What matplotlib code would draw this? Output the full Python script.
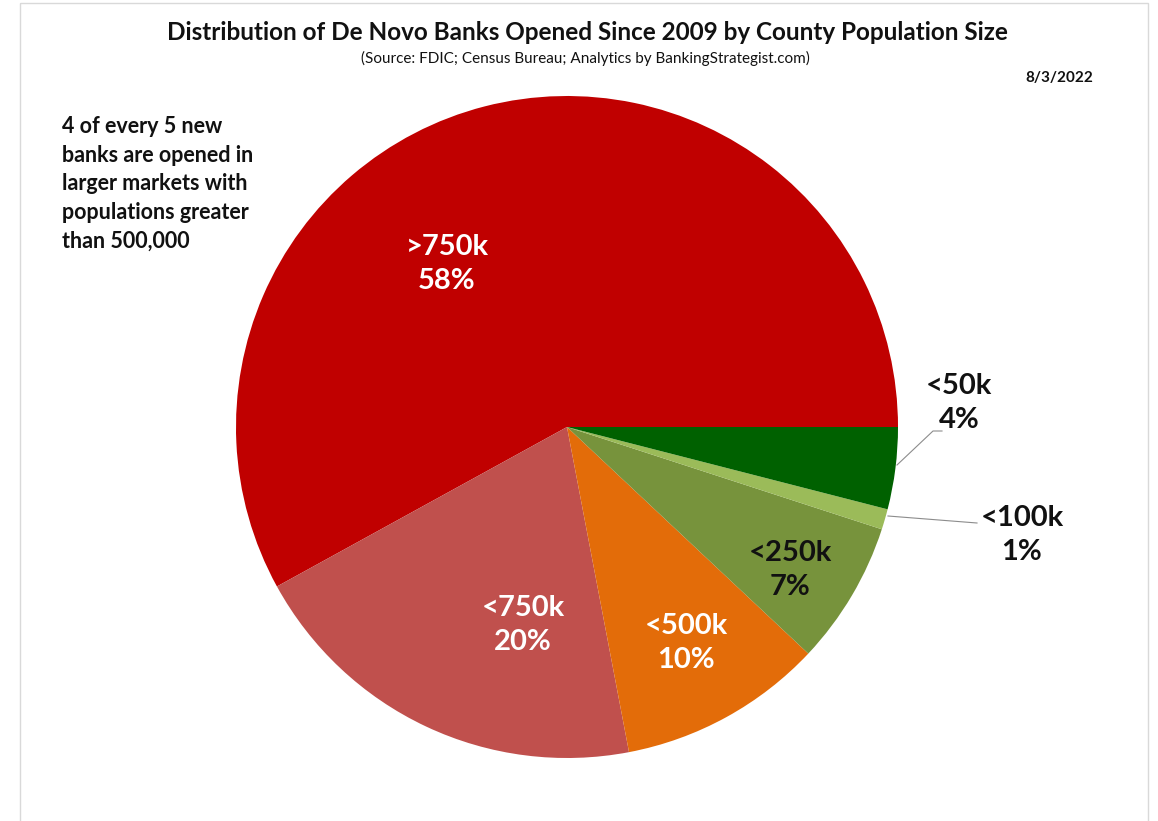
import matplotlib.pyplot as plt
from matplotlib.patches import Rectangle

# ── Dados ─────────────────────────────────────────────────────────────────────
categories = [">750k", "<750k", "<500k", "<250k", "<100k", "<50k"]
shares = [58, 20, 10, 7, 1, 4]
colors = ["#C00000", "#C0504D", "#E36C09", "#77933C", "#9BBB59", "#006100"]

TITLE = "Distribution of De Novo Banks Opened Since 2009 by County Population Size"
SUBTITLE = "(Source: FDIC; Census Bureau; Analytics by BankingStrategist.com)"
DATE = "8/3/2022"
NOTE = ("4 of every 5 new\nbanks are opened in\nlarger markets with\n"
        "populations greater\nthan 500,000")

W, H = 1158, 821
FONT = ["Lato", "DejaVu Sans"]

fig = plt.figure(figsize=(W / 100, H / 100), dpi=100)
ax = fig.add_axes([0, 0, 1, 1])

# moldura cinza clara
ax.add_patch(Rectangle((20, 3), 1128, 830, fill=False, edgecolor="#D9D9D9", linewidth=1))

cx, cy, r = 567, 427, 331
ax.pie(shares, colors=colors, startangle=0, counterclock=False,
       center=(cx, cy), radius=r, frame=True,
       wedgeprops=dict(linewidth=0))
ax.set_xlim(0, W)
ax.set_ylim(H, 0)
ax.set_aspect("equal")
ax.axis("off")

# rótulos (posição, cor)
label_pos = {
    ">750k": ((447, 264), "white"),
    "<750k": ((523, 625), "white"),
    "<500k": ((686, 643), "white"),
    "<250k": ((790, 570), "#111111"),
    "<100k": ((1022, 535), "#111111"),
    "<50k": ((959, 403), "#111111"),
}
for cat, val in zip(categories, shares):
    (x, y), c = label_pos[cat]
    ax.text(x, y, f"{cat}\n{val}%", ha="center", va="center", color=c,
            fontsize=21, fontweight="bold", family=FONT, linespacing=1.42)

# linhas de chamada
ax.plot([897, 933, 942], [465, 431, 431], color="#8C8C8C", linewidth=0.8)
ax.plot([888, 977], [516, 523], color="#8C8C8C", linewidth=0.8)

ax.text(587, 33, TITLE, ha="center", va="center", fontsize=17.5,
        fontweight="bold", family=FONT, color="#111111")
ax.text(585, 58, SUBTITLE, ha="center", va="center", fontsize=11,
        family=FONT, color="#111111")
ax.text(1093, 78, DATE, ha="right", va="center", fontsize=11,
        fontweight="bold", family=FONT, color="#111111")
ax.text(62, 116, NOTE, ha="left", va="top", fontsize=15.5,
        fontweight="bold", family=FONT, color="#111111", linespacing=1.45)

fig.savefig("out.png", dpi=100)
